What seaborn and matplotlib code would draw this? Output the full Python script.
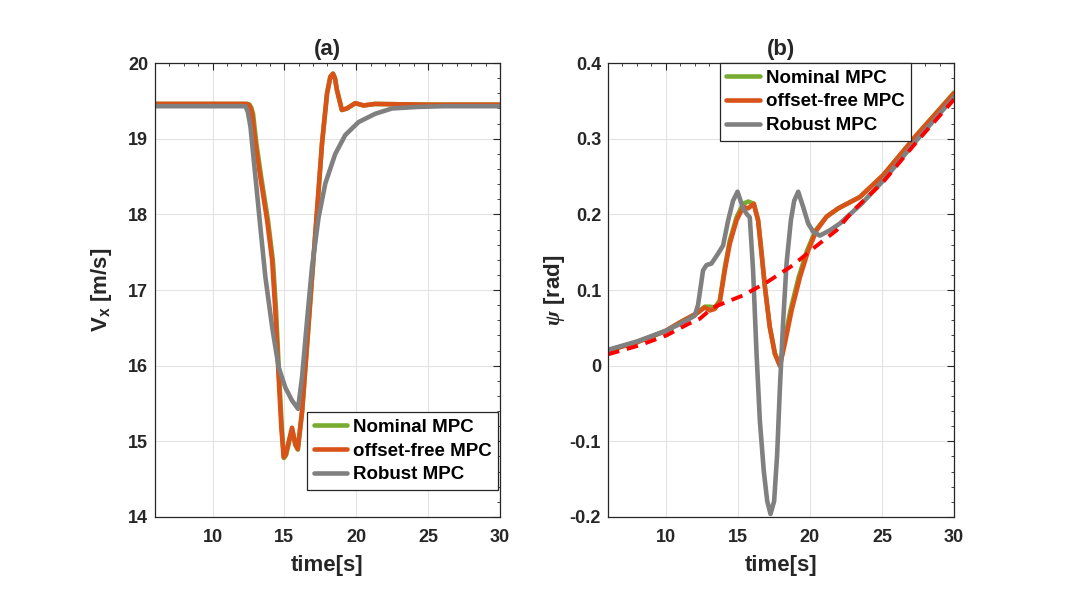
import numpy as np
import pandas as pd
import seaborn as sns
import matplotlib.pyplot as plt
from matplotlib.ticker import MultipleLocator

# ---- (a) longitudinal speed Vx [m/s] ----
t_vx_off = [6, 10, 12.4, 12.52, 12.64, 12.76, 12.99, 13.33, 13.80, 14.15, 14.37, 14.60, 14.79, 14.95, 15.10, 15.26,
            15.53, 15.76, 15.93, 16.23, 16.58, 16.92, 17.27, 17.62, 17.97, 18.20, 18.38, 18.52, 18.66, 19.0,
            19.35, 19.93, 20.51, 21.3, 25, 30]
vx_off = [19.46, 19.46, 19.46, 19.45, 19.41, 19.33, 18.94, 18.49, 17.92, 17.39, 16.73, 15.85, 15.18, 14.79, 14.83, 14.96,
          15.18, 14.96, 14.90, 15.40, 16.29, 17.17, 18.05, 18.94, 19.60, 19.82, 19.86, 19.80, 19.64, 19.38,
          19.40, 19.47, 19.44, 19.46, 19.45, 19.45]

t_vx_nom = [6, 10, 12.4, 12.58, 12.70, 12.82, 13.05, 13.39, 13.86, 14.20, 14.42, 14.64, 14.82, 14.97, 15.12, 15.28,
            15.54, 15.77, 15.94, 16.24, 16.59, 16.93, 17.28, 17.62, 17.97, 18.20, 18.38, 18.52, 18.66, 19.0,
            19.35, 19.93, 20.51, 21.3, 25, 30]
vx_nom = [19.46, 19.46, 19.46, 19.45, 19.41, 19.33, 18.94, 18.49, 17.92, 17.39, 16.73, 15.85, 15.18, 14.78, 14.82, 14.95,
          15.16, 14.95, 14.89, 15.40, 16.29, 17.17, 18.05, 18.94, 19.60, 19.82, 19.86, 19.80, 19.64, 19.38,
          19.40, 19.47, 19.44, 19.46, 19.45, 19.45]

t_vx_rob = [6, 10, 12.29, 12.45, 12.64, 12.99, 13.33, 13.68, 14.15, 14.60, 15.07, 15.53, 15.95, 16.23, 16.58, 16.92,
            17.38, 17.85, 18.54, 19.24, 20.16, 21.32, 22.48, 24.2, 26, 30]
vx_rob = [19.43, 19.43, 19.43, 19.36, 19.16, 18.49, 17.83, 17.17, 16.51, 15.98, 15.71, 15.54, 15.43, 15.85, 16.60, 17.30,
          17.96, 18.41, 18.80, 19.05, 19.22, 19.33, 19.40, 19.42, 19.43, 19.43]

# ---- (b) yaw angle psi [rad] ----
t_psi_ref = [6, 8.2, 10.05, 11.55, 12.36, 13.28, 15.37, 16.99, 18.84, 20.23, 21.85, 23.0, 25.09, 27.41, 30]
psi_ref = [0.015, 0.027, 0.040, 0.055, 0.062, 0.077, 0.093, 0.110, 0.133, 0.155, 0.179, 0.205, 0.243, 0.296, 0.352]

t_psi_off = [6, 8, 10, 10.97, 12.13, 12.71, 13.06, 13.4, 13.75, 14.1, 14.44, 14.91, 15.37, 15.72, 16.11, 16.41,
             16.65, 16.88, 17.22, 17.57, 17.92, 18.26, 18.73, 19.31, 19.88, 20.46, 21.16, 21.97, 23.47, 25.09,
             27.41, 30]
psi_off = [0.020, 0.031, 0.046, 0.057, 0.069, 0.077, 0.073, 0.075, 0.084, 0.126, 0.161, 0.192, 0.210, 0.208,
           0.214, 0.192, 0.148, 0.104, 0.051, 0.016, 0.000, 0.029, 0.073, 0.117, 0.152, 0.179, 0.197, 0.208,
           0.223, 0.252, 0.305, 0.360]

t_psi_nom = [6, 8, 10, 10.97, 12.13, 12.71, 13.06, 13.4, 13.75, 14.1, 14.44, 14.91, 15.37, 15.72, 16.11, 16.41,
             16.65, 16.88, 17.22, 17.57, 17.92, 18.20, 18.65, 19.22, 19.80, 20.40, 21.16, 21.97, 23.47, 25.09,
             27.41, 30]
psi_nom = [0.020, 0.031, 0.046, 0.057, 0.069, 0.078, 0.078, 0.077, 0.086, 0.130, 0.165, 0.196, 0.214, 0.217,
           0.214, 0.192, 0.148, 0.104, 0.051, 0.016, 0.000, 0.029, 0.073, 0.117, 0.152, 0.179, 0.197, 0.208,
           0.223, 0.252, 0.305, 0.361]

t_psi_rob = [6, 8, 10, 10.97, 12.01, 12.24, 12.59, 12.83, 13.17, 13.63, 13.98, 14.33, 14.67, 14.98, 15.37, 15.6,
             15.83, 16.06, 16.3, 16.53, 16.8, 17.04, 17.27, 17.52, 17.73, 17.92, 18.15, 18.38, 18.68, 18.91,
             19.19, 19.53, 19.88, 20.23, 20.69, 21.39, 22.08, 23.58, 25.1, 27.4, 30]
psi_rob = [0.021, 0.032, 0.046, 0.055, 0.066, 0.080, 0.126, 0.133, 0.135, 0.148, 0.159, 0.192, 0.218, 0.230,
           0.208, 0.201, 0.196, 0.126, 0.016, -0.073, -0.139, -0.179, -0.196, -0.179, -0.117, -0.029, 0.060,
           0.135, 0.192, 0.218, 0.230, 0.210, 0.188, 0.177, 0.172, 0.179, 0.188, 0.214, 0.245, 0.298, 0.355]

psi_ticks = [-0.2, -0.1, 0, 0.1, 0.2, 0.3, 0.4]
psi_labels = ["-0.2", "-0.1", "0", "0.1", "0.2", "0.3", "0.4"]
time_ticks = [10, 15, 20, 25, 30]
labels = ["Nominal MPC", "offset-free MPC", "Robust MPC"]
colors = ["#77AC30", "#D95319", "#808080"]

sns.set_style("white")
plt.rcParams['font.family'] = ['Liberation Sans', 'DejaVu Sans']
plt.rcParams['font.weight'] = 'bold'
plt.rcParams['mathtext.fontset'] = 'custom'
plt.rcParams['mathtext.rm'] = 'Liberation Sans:bold'
plt.rcParams['mathtext.bf'] = 'Liberation Sans:bold'
plt.rcParams['mathtext.it'] = 'Liberation Serif:italic'
dark = "#262626"

fig = plt.figure(figsize=(10.72, 6.02), dpi=100)
ax1 = fig.add_axes([0.1446, 0.1412, 0.3218, 0.754])
ax2 = fig.add_axes([0.5672, 0.1412, 0.3228, 0.754])

series_a = [(t_vx_nom, vx_nom), (t_vx_off, vx_off), (t_vx_rob, vx_rob)]
series_b = [(t_psi_nom, psi_nom), (t_psi_off, psi_off), (t_psi_rob, psi_rob)]

for ax, series in [(ax1, series_a), (ax2, series_b)]:
    for (tt, yy), lab, c in zip(series, labels, colors):
        sns.lineplot(x=tt, y=yy, ax=ax, color=c, linewidth=3.3, label=lab, estimator=None, sort=False)

sns.lineplot(x=t_psi_ref, y=psi_ref, ax=ax2, color="#FF0000", linewidth=2.8, estimator=None, sort=False)
ax2.lines[-1].set_dashes((3, 2))

ax1.set_xlim(6, 30)
ax1.set_ylim(14, 20)
ax2.set_xlim(6, 30)
ax2.set_ylim(-0.2, 0.4)
ax2.set_yticks(psi_ticks)
ax2.set_yticklabels(psi_labels)
ax1.yaxis.set_minor_locator(MultipleLocator(0.2))
ax2.yaxis.set_minor_locator(MultipleLocator(0.02))

for ax, title in [(ax1, "(a)"), (ax2, "(b)")]:
    ax.set_xticks(time_ticks)
    ax.xaxis.set_minor_locator(MultipleLocator(1))
    ax.grid(True, which='major', color="#e3e3e3", linewidth=0.8)
    ax.set_axisbelow(True)
    ax.tick_params(which='both', direction='in', top=True, right=True, colors=dark, labelsize=13)
    ax.tick_params(which='major', length=5)
    ax.tick_params(which='minor', length=2.5)
    ax.tick_params(axis='x', pad=9)
    ax.tick_params(axis='y', pad=5)
    for lbl in ax.get_xticklabels() + ax.get_yticklabels():
        lbl.set_fontweight('bold')
    for s in ax.spines.values():
        s.set_color(dark)
        s.set_linewidth(0.9)
    ax.set_title(title, fontsize=16, fontweight='bold', color=dark, pad=6)
    ax.set_xlabel("time[s]", fontsize=16, fontweight='bold', color=dark, labelpad=6)

ax1.set_ylabel(r"$\mathbf{V_x}$ [m/s]", fontsize=16, fontweight='bold', color=dark, labelpad=10)
ax2.set_ylabel(r"$\psi$ [rad]", fontsize=16, fontweight='bold', color=dark, labelpad=2)

leg1 = ax1.legend(loc='lower right', bbox_to_anchor=(0.995, 0.06), fontsize=13.5, frameon=True,
                  fancybox=False, framealpha=1, handlelength=1.8, borderpad=0.35, labelspacing=0.35,
                  handletextpad=0.3, borderaxespad=0)
leg2 = ax2.legend(loc='upper right', bbox_to_anchor=(0.876, 1.0), fontsize=13.5, frameon=True,
                  fancybox=False, framealpha=1, handlelength=1.8, borderpad=0.35, labelspacing=0.35,
                  handletextpad=0.3, borderaxespad=0)
for leg in (leg1, leg2):
    leg.get_frame().set_edgecolor(dark)
    leg.get_frame().set_linewidth(0.9)
    for txt in leg.get_texts():
        txt.set_fontweight('bold')
        txt.set_color('black')

fig.savefig("out.png", dpi=100, facecolor='white')
